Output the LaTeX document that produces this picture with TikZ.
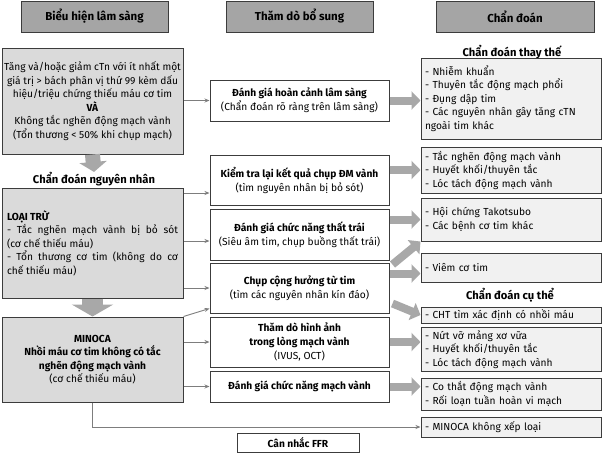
\documentclass[tikz,border=0pt]{standalone}
\usepackage{fontspec}
\setmainfont{Fira Sans}
\usetikzlibrary{arrows.meta, positioning, calc}
\definecolor{bordc}{RGB}{60,60,60}
\definecolor{hdrc} {RGB}{165,165,165}
\definecolor{lboxc}{RGB}{218,218,218}
\definecolor{rboxc}{RGB}{241,241,241}
\definecolor{bigc} {RGB}{168,168,168}
\definecolor{thinc}{RGB}{125,125,125}

\tikzset{
  hdrbox/.style={draw=bordc, fill=hdrc, line width=1pt, minimum height=31pt,
                 font=\bfseries\fontsize{11.5}{13}\selectfont},
  causebox/.style={draw=bordc, fill=lboxc, line width=1pt, minimum width=181pt,
                   inner xsep=1pt, font=\fontsize{10.2}{13.5}\selectfont},
  testbox/.style={draw=bordc, fill=white, line width=1pt, minimum width=179pt,
                  inner xsep=1pt, align=center,
                  font=\fontsize{10.2}{14}\selectfont},
  dxbox/.style={draw=bordc, fill=rboxc, line width=1pt, minimum width=180pt,
                text width=172pt, inner xsep=4pt, align=left,
                font=\fontsize{10.2}{13.5}\selectfont},
  grouplbl/.style={inner sep=0pt, font=\bfseries\fontsize{11.2}{13}\selectfont},
  thinarr/.style={draw=thinc, line width=0.9pt, -{Stealth[length=5pt,width=4pt]}},
  bigarr/.style={draw=bigc, line width=8pt, -{Triangle[length=9pt,width=18pt]}}
}

\begin{document}
\begin{tikzpicture}[x=1pt, y=-1pt]
  \useasboundingbox[fill=white] (0,0) rectangle (603,453);

  % headers
  \node[hdrbox, minimum width=147pt] (hsign) at (94.5,16.5) {Biểu hiện lâm sàng};
  \node[hdrbox, minimum width=147pt] (htest) at (299.5,16.5) {Thăm dò bổ sung};
  \node[hdrbox, minimum width=158pt] (hdx) at (515,16.5) {Chẩn đoán};

  % left column
  \node[causebox, align=center, minimum height=106pt] (clin) at (92.5,101)
    {Tăng và/hoặc giảm cTn với ít nhất một\\
     giá trị > bách phân vị thứ 99 kèm dấu\\
     hiệu/triệu chứng thiếu máu cơ tim\\
     \textbf{VÀ}\\
     Không tắc nghẽn động mạch vành\\
     (Tổn thương < 50\% khi chụp mạch)};
  \node[grouplbl] (cause) at (94,179) {Chẩn đoán nguyên nhân};
  \node[causebox, align=justify, text width=171pt, inner xsep=5pt,
        minimum height=110pt] (excl) at (92.5,243)
    {\textbf{LOẠI TRỪ}\\
     - Tắc nghẽn mạch vành bị bỏ sót\linebreak (cơ chế thiếu máu)\\
     - Tổn thương cơ tim (không do cơ\linebreak chế thiếu máu)};
  \node[causebox, align=center, minimum height=85pt] (minoca) at (92.5,359.5)
    {\textbf{MINOCA}\\
     \textbf{Nhồi máu cơ tim không có tắc}\\
     \textbf{nghẽn động mạch vành}\\
     (cơ chế thiếu máu)};

  % middle column
  \node[testbox, minimum height=41pt] (ctx) at (299.5,100.5)
    {\textbf{Đánh giá hoàn cảnh lâm sàng}\\(Chẩn đoán rõ ràng trên lâm sàng)};
  \node[testbox, minimum height=50pt] (recheck) at (299.5,180)
    {\textbf{Kiểm tra lại kết quả chụp ĐM vành}\\(tìm nguyên nhân bị bỏ sót)};
  \node[testbox, minimum height=51pt] (lvfunc) at (299.5,234.5)
    {\textbf{Đánh giá chức năng thất trái}\\(Siêu âm tim, chụp buồng thất trái)};
  \node[testbox, minimum height=50pt] (cmr) at (299.5,288)
    {\textbf{Chụp cộng hưởng từ tim}\\(tìm các nguyên nhân kín đáo)};
  \node[testbox, minimum height=50pt] (intra) at (299.5,342)
    {\textbf{Thăm dò hình ảnh}\\\textbf{trong lòng mạch vành}\\(IVUS, OCT)};
  \node[testbox, minimum height=31pt] (corfunc) at (299.5,386.5)
    {\textbf{Đánh giá chức năng mạch vành}};
  \node[testbox, minimum width=122pt, minimum height=19pt,
        inner ysep=2pt] (ffr) at (298,442.5) {\textbf{Cân nhắc FFR}};

  % right column
  \node[grouplbl] (altlbl) at (512,52) {Chẩn đoán thay thế};
  \node[dxbox, minimum height=81pt] (alt) at (511,98.5)
    {- Nhiễm khuẩn\\
     - Thuyên tắc động mạch phổi\\
     - Đụng dập tim\\
     - Các nguyên nhân gây tăng cTN\\
     ngoài tim khác};
  \node[dxbox, minimum height=46pt] (obst) at (511,170)
    {- Tắc nghẽn động mạch vành\\- Huyết khối/thuyên tắc\\- Lóc tách động mạch vành};
  \node[dxbox, minimum height=43pt] (takot) at (511,219.5)
    {- Hội chứng Takotsubo\\- Các bệnh cơ tim khác};
  \node[dxbox, minimum height=29pt] (myoc) at (511,267.5) {- Viêm cơ tim};
  \node[grouplbl] (speclbl) at (510,295) {Chẩn đoán cụ thể};
  \node[dxbox, minimum height=16pt, inner ysep=1pt] (cmrinf) at (511,315)
    {- CHT tìm xác định có nhồi máu};
  \node[dxbox, minimum height=43pt] (plaque) at (511,349.5)
    {- Nứt vỡ mảng xơ vữa\\- Huyết khối/thuyên tắc\\- Lóc tách động mạch vành};
  \node[dxbox, minimum height=32pt] (spasm) at (511,394)
    {- Co thắt động mạch vành\\- Rối loạn tuần hoàn vi mạch};
  \node[dxbox, minimum height=20pt, inner ysep=2pt] (unclass) at (511,427)
    {- MINOCA không xếp loại};

  % left column flow
  \draw[bigarr, line width=15pt, -{Triangle[length=10pt,width=27pt]}]
    (clin.south) -- (cause.north);
  \draw[bigarr, line width=21pt, -{Triangle[length=12pt,width=41pt]}]
    (excl.south) -- (minoca.north);

  % left to middle
  \coordinate (recin) at ($(recheck.west)+(0,13)$);
  \coordinate (lvin) at ($(lvfunc.west)+(0,6.5)$);
  \draw[thinarr] (clin.east |- ctx.west) -- (ctx.west);
  \draw[thinarr] (excl.east |- recin) -- (recin);
  \draw[thinarr] (excl.east |- lvin) -- (lvin);
  \draw[thinarr] (excl.east |- cmr.west) -- (cmr.west);
  \draw[thinarr] (minoca.north east) -- ($(cmr.south west)+(0,-5)$);
  \draw[thinarr] (minoca.east |- intra.west) -- (intra.west);
  \draw[thinarr] (minoca.east |- corfunc.west) -- (corfunc.west);
  \draw[thinarr] (minoca.south) |- (unclass.west);

  % middle to right
  \coordinate (myin) at ($(myoc.west)+(0,6)$);
  \draw[bigarr] (ctx.east) -- (alt.west |- ctx.east);
  \draw[bigarr] (recheck.east |- obst.west) -- (obst.west);
  \draw[bigarr] (lvfunc.east |- takot.west) -- (takot.west);
  \draw[bigarr] ($(cmr.north east)+(3,2)$) -- (takot.south west);
  \draw[bigarr] (cmr.east |- myin) -- (myin);
  \draw[bigarr] ($(cmr.south east)+(3,-10)$) -- (cmrinf.west);
  \draw[bigarr] (intra.east) -- (plaque.west |- intra.east);
  \draw[bigarr] (corfunc.east) -- (spasm.west |- corfunc.east);
\end{tikzpicture}
\end{document}
